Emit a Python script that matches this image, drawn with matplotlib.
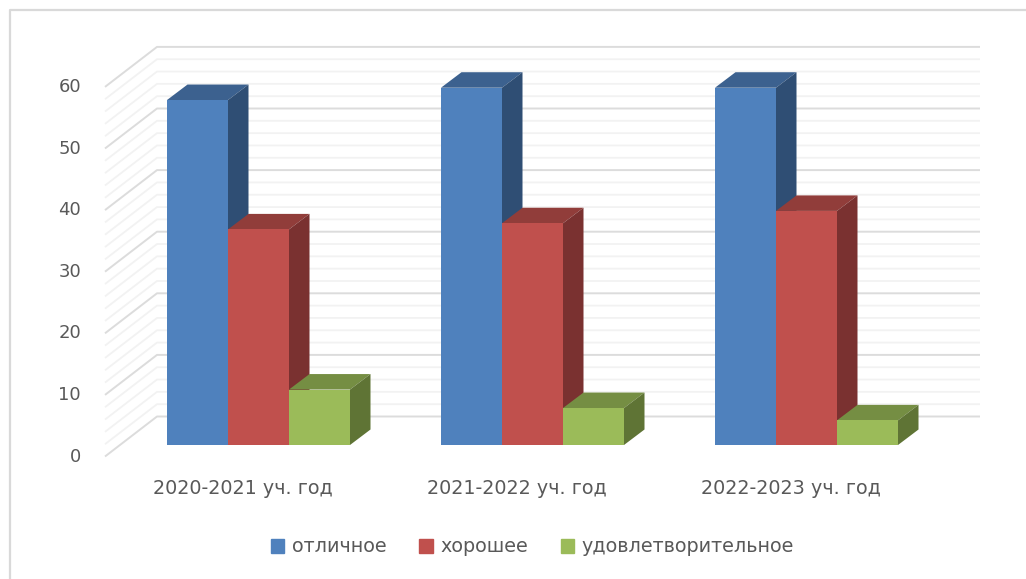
import matplotlib
matplotlib.use('Agg')
import matplotlib.pyplot as plt
from matplotlib.patches import Polygon, Patch

plt.rcParams['font.family'] = ['DejaVu Sans']

categories = ['2020-2021 уч. год', '2021-2022 уч. год', '2022-2023 уч. год']
series_names = ['отличное', 'хорошее', 'удовлетворительное']
otlichnoe = [56, 58, 58]
horoshee = [35, 36, 38]
udovl = [9, 6, 4]
y_ticks = [0, 10, 20, 30, 40, 50, 60]
minor_ticks = [2, 4, 6, 8, 12, 14, 16, 18, 22, 24, 26, 28, 32, 34, 36, 38,
               42, 44, 46, 48, 52, 54, 56, 58]

front = ['#4f81bd', '#c0504d', '#9bbb59']
top = ['#3c618f', '#913d3a', '#758e43']
side = ['#2f4e74', '#7a3130', '#5f7435']

# pixel scale of the picture
W, H = 1026, 579
PX_X = 274.0   # px per category
PX_Y = 6.16    # px per value
X0 = 258.5     # px of first group centre
Y0 = 445.0     # px of value 0 at the bars front


def dx(px):
    return px / PX_X


def dy(px):
    return px / PX_Y


def xp(px):
    return (px - X0) / PX_X


fig = plt.figure(figsize=(W / 100, H / 100), dpi=100)
ax = fig.add_axes([0, 0, 1, 1])
ax.set_xlim(xp(0), xp(W))
ax.set_ylim(-(H - Y0) / PX_Y, Y0 / PX_Y)
ax.axis('off')

# chart border
ax.plot([xp(10), xp(10), xp(W)], [-dy(H - Y0), dy(Y0 - 10), dy(Y0 - 10)],
        color='#d9d9d9', lw=1.6, zorder=1)

# walls: back wall zero is 28 px above the bar foot, left wall 11.5 px below
back = dy(28.5)
left = -dy(11.5)
for vals, col, w in ((minor_ticks, '#f2f2f2', 1.3), (y_ticks, '#dcdcdc', 1.4)):
    for v in vals:
        ax.plot([xp(105), xp(157), xp(980)], [v + left, v + back, v + back],
                color=col, lw=w, zorder=2, solid_capstyle='butt')

# bars
bw = 61.0 / PX_X
ddx = dx(20.5)
ddy = dy(15.5)
for s, vals in enumerate([otlichnoe, horoshee, udovl]):
    xs = [i + (s - 1) * bw for i in range(len(categories))]
    ax.bar(xs, vals, width=bw, color=front[s], zorder=5 + s * 2)
    for x, v in zip(xs, vals):
        l, r = x - bw / 2, x + bw / 2
        ax.add_patch(Polygon([(l, v), (l + ddx, v + ddy), (r + ddx, v + ddy), (r, v)],
                             closed=True, fc=top[s], ec='none', zorder=4 + s * 2))
        ax.add_patch(Polygon([(r, 0), (r + ddx, ddy), (r + ddx, v + ddy), (r, v)],
                             closed=True, fc=side[s], ec='none', zorder=4 + s * 2))

# tick labels
for v in y_ticks:
    ax.text(xp(81), v + left, str(v), ha='right', va='center', fontsize=13, color='#595959')
for i, c in enumerate(categories):
    ax.text(i - dx(15.5), -dy(44), c, ha='center', va='center', fontsize=13.8, color='#595959')

handles = [Patch(color=front[i], label=series_names[i]) for i in range(3)]
ax.legend(handles=handles, ncol=3, loc='center', frameon=False, fontsize=13.8,
          labelcolor='#595959', bbox_to_anchor=(532.5 / W, 1 - 547 / H),
          handlelength=0.7, handleheight=0.7, handletextpad=0.4, columnspacing=1.7)

fig.savefig('out.png', dpi=100)
